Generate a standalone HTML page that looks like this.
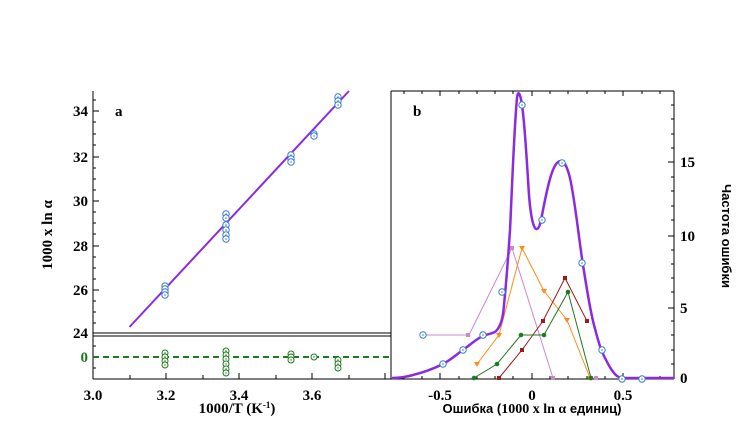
<!DOCTYPE html>
<html><head><meta charset="utf-8"><style>body{margin:0;background:#fff}svg{display:block}</style></head><body>
<svg width="752" height="443" viewBox="0 0 752 443" xmlns="http://www.w3.org/2000/svg" font-family="Liberation Serif, serif" font-weight="bold">
<defs>
<g id="bc"><circle r="3.2" fill="#fff" stroke="#3a7bd5" stroke-width="1"/><circle r="0.8" fill="#3a7bd5"/></g>
<g id="gc"><circle r="3" fill="#fff" stroke="#1e7a1e" stroke-width="1"/><circle r="0.7" fill="#1e7a1e"/></g>
</defs>
<g stroke="#000" fill="none" stroke-width="1">
<line x1="93" y1="91" x2="93" y2="379"/>
<line x1="391" y1="91" x2="391" y2="379"/>
<line x1="93" y1="333" x2="391" y2="333"/>
<line x1="93" y1="336" x2="391" y2="336"/>
<line x1="93" y1="379" x2="391" y2="379"/>
<line x1="391" y1="91" x2="674" y2="91"/>
<line x1="674" y1="91" x2="674" y2="379"/>
<line x1="391" y1="379" x2="674" y2="379"/>
</g>
<g stroke="#000" stroke-width="1">
<line x1="93" y1="111" x2="99" y2="111"/><line x1="93" y1="157" x2="99" y2="157"/><line x1="93" y1="201" x2="99" y2="201"/><line x1="93" y1="246" x2="99" y2="246"/><line x1="93" y1="290" x2="99" y2="290"/>
<line x1="93" y1="134" x2="96" y2="134"/><line x1="93" y1="179" x2="96" y2="179"/><line x1="93" y1="223" x2="96" y2="223"/><line x1="93" y1="268" x2="96" y2="268"/><line x1="93" y1="312" x2="96" y2="312"/><line x1="93" y1="100" x2="96" y2="100"/><line x1="93" y1="122" x2="96" y2="122"/><line x1="93" y1="145" x2="96" y2="145"/><line x1="93" y1="168" x2="96" y2="168"/><line x1="93" y1="190" x2="96" y2="190"/><line x1="93" y1="212" x2="96" y2="212"/><line x1="93" y1="234" x2="96" y2="234"/><line x1="93" y1="257" x2="96" y2="257"/><line x1="93" y1="279" x2="96" y2="279"/><line x1="93" y1="301" x2="96" y2="301"/><line x1="93" y1="323" x2="96" y2="323"/>
<line x1="93" y1="346" x2="96" y2="346"/><line x1="93" y1="368" x2="96" y2="368"/>
<line x1="130" y1="379" x2="130" y2="375"/><line x1="166" y1="379" x2="166" y2="373"/><line x1="203" y1="379" x2="203" y2="375"/><line x1="239" y1="379" x2="239" y2="373"/><line x1="276" y1="379" x2="276" y2="375"/><line x1="312" y1="379" x2="312" y2="373"/><line x1="349" y1="379" x2="349" y2="375"/><line x1="385" y1="379" x2="385" y2="373"/>
</g>
<g font-size="15" fill="#000">
<text x="88" y="116" text-anchor="end">34</text><text x="88" y="162" text-anchor="end">32</text><text x="88" y="206" text-anchor="end">30</text><text x="88" y="251" text-anchor="end">28</text><text x="88" y="295" text-anchor="end">26</text><text x="88" y="338" text-anchor="end">24</text>
<text x="88" y="362" text-anchor="end" fill="#1e7a1e">0</text>
<text x="93" y="400" text-anchor="middle">3.0</text><text x="166" y="400" text-anchor="middle">3.2</text><text x="239" y="400" text-anchor="middle">3.4</text><text x="312" y="400" text-anchor="middle">3.6</text>
<text x="237" y="413" text-anchor="middle">1000/T (K<tspan dy="-5" font-size="9">-1</tspan><tspan dy="5">)</tspan></text>
<text transform="translate(52,235) rotate(-90)" text-anchor="middle">1000 x ln α</text>
<text x="115" y="116" font-size="15">a</text>
<text x="413" y="116" font-size="15">b</text>
</g>
<line x1="129.5" y1="327" x2="349" y2="91" stroke="#8a2be2" stroke-width="2"/>
<g>
<use href="#bc" x="165" y="286"/><use href="#bc" x="165" y="289"/><use href="#bc" x="165" y="292"/><use href="#bc" x="165" y="295"/>
<use href="#bc" x="226" y="214"/><use href="#bc" x="226" y="218"/><use href="#bc" x="226" y="225"/><use href="#bc" x="226" y="230"/><use href="#bc" x="226" y="235"/><use href="#bc" x="226" y="239"/>
<use href="#bc" x="291" y="155"/><use href="#bc" x="291" y="159"/><use href="#bc" x="291" y="162"/>
<use href="#bc" x="314" y="134"/><use href="#bc" x="314" y="136"/>
<use href="#bc" x="338" y="97"/><use href="#bc" x="338" y="101"/><use href="#bc" x="338" y="105"/>
</g>
<line x1="93" y1="357" x2="391" y2="357" stroke="#1e7a1e" stroke-width="2" stroke-dasharray="6,4"/>
<g>
<use href="#gc" x="165" y="353"/><use href="#gc" x="165" y="357"/><use href="#gc" x="165" y="361"/><use href="#gc" x="165" y="365"/>
<use href="#gc" x="226" y="351"/><use href="#gc" x="226" y="355"/><use href="#gc" x="226" y="359"/><use href="#gc" x="226" y="364"/><use href="#gc" x="226" y="369"/><use href="#gc" x="226" y="373"/>
<use href="#gc" x="291" y="354"/><use href="#gc" x="291" y="357"/><use href="#gc" x="291" y="360"/>
<use href="#gc" x="314" y="357"/>
<use href="#gc" x="338" y="360"/><use href="#gc" x="338" y="364"/><use href="#gc" x="338" y="368"/>
</g>
<g stroke="#000" stroke-width="1">
<line x1="440" y1="379" x2="440" y2="373"/><line x1="532" y1="379" x2="532" y2="373"/><line x1="623" y1="379" x2="623" y2="373"/>
<line x1="404" y1="379" x2="404" y2="376"/><line x1="422" y1="379" x2="422" y2="376"/><line x1="459" y1="379" x2="459" y2="376"/><line x1="477" y1="379" x2="477" y2="376"/><line x1="495" y1="379" x2="495" y2="376"/><line x1="513" y1="379" x2="513" y2="376"/><line x1="550" y1="379" x2="550" y2="376"/><line x1="568" y1="379" x2="568" y2="376"/><line x1="587" y1="379" x2="587" y2="376"/><line x1="605" y1="379" x2="605" y2="376"/><line x1="642" y1="379" x2="642" y2="376"/><line x1="660" y1="379" x2="660" y2="376"/>
<line x1="404" y1="91" x2="404" y2="94"/><line x1="422" y1="91" x2="422" y2="94"/><line x1="440" y1="91" x2="440" y2="96"/><line x1="459" y1="91" x2="459" y2="94"/><line x1="477" y1="91" x2="477" y2="94"/><line x1="495" y1="91" x2="495" y2="94"/><line x1="513" y1="91" x2="513" y2="94"/><line x1="532" y1="91" x2="532" y2="96"/><line x1="550" y1="91" x2="550" y2="94"/><line x1="568" y1="91" x2="568" y2="94"/><line x1="587" y1="91" x2="587" y2="94"/><line x1="605" y1="91" x2="605" y2="94"/><line x1="623" y1="91" x2="623" y2="96"/><line x1="642" y1="91" x2="642" y2="94"/><line x1="660" y1="91" x2="660" y2="94"/>
<line x1="674" y1="308" x2="668" y2="308"/><line x1="674" y1="236" x2="668" y2="236"/><line x1="674" y1="162" x2="668" y2="162"/>
<line x1="674" y1="364" x2="671" y2="364"/><line x1="674" y1="350" x2="671" y2="350"/><line x1="674" y1="335" x2="671" y2="335"/><line x1="674" y1="321" x2="671" y2="321"/><line x1="674" y1="292" x2="671" y2="292"/><line x1="674" y1="278" x2="671" y2="278"/><line x1="674" y1="264" x2="671" y2="264"/><line x1="674" y1="250" x2="671" y2="250"/><line x1="674" y1="220" x2="671" y2="220"/><line x1="674" y1="206" x2="671" y2="206"/><line x1="674" y1="191" x2="671" y2="191"/><line x1="674" y1="177" x2="671" y2="177"/><line x1="674" y1="148" x2="671" y2="148"/><line x1="674" y1="134" x2="671" y2="134"/><line x1="674" y1="119" x2="671" y2="119"/><line x1="674" y1="105" x2="671" y2="105"/>
</g>
<g font-size="15" fill="#000">
<text x="440" y="400" text-anchor="middle">-0.5</text><text x="532" y="400" text-anchor="middle">0</text><text x="623" y="400" text-anchor="middle">0.5</text>
<text x="680" y="383">0</text><text x="680" y="313">5</text><text x="680" y="241">10</text><text x="680" y="167">15</text>
</g>
<text x="532" y="413" text-anchor="middle" font-size="13" font-family="Liberation Sans, sans-serif" font-weight="bold"><tspan>Ошибка (</tspan><tspan font-family="Liberation Serif, serif" font-size="14">1000 x ln α</tspan><tspan> единиц)</tspan></text>
<text transform="translate(722,236) rotate(90)" text-anchor="middle" font-size="13" font-family="Liberation Sans, sans-serif" font-weight="bold">Частота ошибки</text>
<g fill="none" stroke-width="1">
<polyline points="423,335 469,335 512,248 553,378" stroke="#cc88cc"/>
<polyline points="477,364 499,335 522,248 544,291 567,320 590,378" stroke="#ff8c1a"/>
<polyline points="499,378 522,350 543,321 565,278 587,321" stroke="#a01818"/>
<polyline points="474,378 497,364 521,335 544,335 568,292 591,378" stroke="#1e7a1e"/>
</g>
<g fill="#cc88cc"><rect x="466" y="333" width="4" height="4"/><rect x="510" y="246" width="4" height="4"/><rect x="551" y="376" width="4" height="4"/><rect x="594" y="376" width="4" height="4"/></g>
<g fill="#ff8c1a"><path d="M474,362h6l-3,5z"/><path d="M496,333h6l-3,5z"/><path d="M519,246h6l-3,5z"/><path d="M541,289h6l-3,5z"/><path d="M564,318h6l-3,5z"/><path d="M587,376h6l-3,5z"/></g>
<g fill="#a01818"><rect x="497" y="376" width="4" height="4"/><rect x="520" y="348" width="4" height="4"/><rect x="541" y="319" width="4" height="4"/><rect x="563" y="276" width="4" height="4"/><rect x="585" y="319" width="4" height="4"/></g>
<g fill="#1e7a1e"><circle cx="474" cy="378" r="2.3"/><circle cx="497" cy="364" r="2.3"/><circle cx="521" cy="335" r="2.3"/><circle cx="544" cy="335" r="2.3"/><circle cx="568" cy="292" r="2.3"/><circle cx="591" cy="378" r="2.3"/></g>
<path d="M392,378 C400,378 406,377 413,375 C425,372 435,368 443,364 C452,359 457,354 463,350 C470,345 476,339 483,336 C490,333 494,334 497,330 C501,325 503,318 504,305 C506,285 508,260 510,230 C512,190 514,130 517,98 C518,90 520,92 522,105 C525,125 527,165 529,195 C531,220 534,230 537,229 C540,228 541,220 544,205 C548,185 552,168 557,163 C562,158 566,162 570,178 C575,200 579,240 583,265 C587,290 590,310 594,325 C598,340 600,348 604,356 C608,364 612,372 617,376 C620,378 622,378 626,378 L674,378" fill="none" stroke="#8a2be2" stroke-width="2.5"/>
<g>
<use href="#bc" x="423" y="335"/><use href="#bc" x="443" y="364"/><use href="#bc" x="463" y="350"/><use href="#bc" x="483" y="335"/><use href="#bc" x="502" y="292"/><use href="#bc" x="522" y="105"/><use href="#bc" x="542" y="220"/><use href="#bc" x="562" y="163"/><use href="#bc" x="582" y="263"/><use href="#bc" x="602" y="350"/><use href="#bc" x="622" y="379"/><use href="#bc" x="642" y="379"/>
</g>
</svg>
</body></html>
